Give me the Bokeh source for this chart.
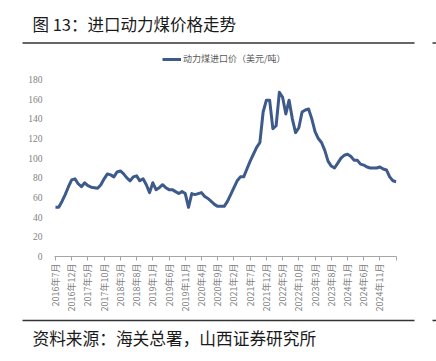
import math
from bokeh.plotting import figure
from bokeh.models import Range1d, FixedTicker, Legend, LegendItem
from bokeh.core.properties import value
from bokeh.embed import file_html
from bokeh.resources import INLINE

title_text = "图 13：进口动力煤价格走势"
source_text = "资料来源：海关总署，山西证券研究所"
series_name = "动力煤进口价（美元/吨）"

tick_labels = ["2016年7月", "2016年12月", "2017年5月", "2017年10月", "2018年3月",
               "2018年8月", "2019年1月", "2019年6月", "2019年11月", "2020年4月",
               "2020年9月", "2021年2月", "2021年7月", "2021年12月", "2022年5月",
               "2022年10月", "2023年3月", "2023年8月", "2024年1月", "2024年6月",
               "2024年11月"]
label_step = 5
y_ticks = [0, 20, 40, 60, 80, 100, 120, 140, 160, 180]

# monthly import price of thermal coal, 2016-07 .. 2025-04 (USD/t)
price = [50, 50, 56, 63, 71, 78, 79, 74, 71, 75,
         72, 70.5, 70, 69.5, 73, 79, 84, 83, 81, 86,
         87, 84, 80, 77, 81, 82, 77, 79, 73, 65,
         75, 68, 70, 73, 70, 68, 68, 66, 64, 66,
         64, 50, 64, 63, 64, 65, 61, 59, 56, 53,
         51, 51, 51, 56, 63, 70, 77, 81, 81, 89,
         97, 104, 111, 116, 147, 159, 159, 130, 133, 167,
         162, 145, 159, 140, 126, 131, 147, 149, 150, 140,
         127, 120, 116, 108, 97, 92, 90, 95, 100, 103,
         104, 102, 98, 98, 94, 93, 91, 90, 90, 90,
         91, 89, 88, 81, 77, 76]
months = list(range(len(price)))

W = 436
CJK = "Noto Sans CJK SC"


def text_panel(height):
    f = figure(width=W, height=height, output_backend="svg", toolbar_location=None,
               x_range=Range1d(0, W), y_range=Range1d(height, 0),
               x_axis_location=None, y_axis_location=None,
               min_border=0, min_border_left=0, min_border_right=0,
               min_border_top=0, min_border_bottom=0)
    f.outline_line_color = None
    f.xgrid.visible = False
    f.ygrid.visible = False
    f.background_fill_color = "white"
    f.border_fill_color = "white"
    return f


# header: title + rule
HH = 50
header = text_panel(HH)
header.text(x=[32], y=[23], text=[title_text], text_font=value(CJK),
            text_font_size="16.5px", text_color="#1a1a1a",
            text_baseline="middle", text_align="left")
header.segment(x0=[22, 432], y0=[42.5, 42.5], x1=[414, 436], y1=[42.5, 42.5],
               line_color="#333333", line_width=1.3)

# chart
CH = 268
p = figure(width=W, height=CH, output_backend="svg", toolbar_location=None,
           x_range=Range1d(-0.3, 105.1), y_range=Range1d(0, 207.5),
           min_border_left=54, min_border_right=40, min_border_top=2, min_border_bottom=62)
p.outline_line_color = None
p.xgrid.visible = False
p.ygrid.visible = False
p.background_fill_color = "white"
p.border_fill_color = "white"

r = p.line(months, price, line_color="#3d5a8a", line_width=3, line_join="round")

ticks = list(range(0, len(price), label_step))
p.xaxis.ticker = FixedTicker(ticks=ticks)
p.xaxis.major_label_overrides = {t: (tick_labels[k] if k < len(tick_labels) else "")
                                 for k, t in enumerate(ticks)}
p.xaxis.major_label_orientation = math.pi / 2
p.xaxis.axis_line_color = "#a6a6a6"
p.xaxis.major_tick_line_color = "#a6a6a6"
p.xaxis.major_tick_in = 0
p.xaxis.major_tick_out = 4
p.xaxis.minor_tick_line_color = None
p.xaxis.major_label_text_font = CJK
p.xaxis.major_label_text_font_size = "9px"
p.xaxis.major_label_text_color = "#808080"
p.xaxis.major_label_standoff = 3

p.yaxis.ticker = FixedTicker(ticks=y_ticks)
p.yaxis.axis_line_color = None
p.yaxis.major_tick_line_color = None
p.yaxis.minor_tick_line_color = None
p.yaxis.major_label_text_font = "Liberation Serif"
p.yaxis.major_label_text_font_size = "9.5px"
p.yaxis.major_label_text_color = "#7f7f7f"
p.yaxis.major_label_standoff = 6

legend = Legend(items=[LegendItem(label=series_name, renderers=[r])],
                location=(108, 191), orientation="horizontal",
                glyph_width=19, glyph_height=10, label_standoff=2,
                padding=0, margin=0, spacing=0,
                border_line_color=None, background_fill_alpha=0,
                label_text_font=CJK, label_text_font_size="9px",
                label_text_color="#595959", label_height=10)
p.add_layout(legend, "center")

# footer: rule + source
FH = 43
footer = text_panel(FH)
footer.segment(x0=[22, 432], y0=[2, 2], x1=[414, 436], y1=[2, 2],
               line_color="#333333", line_width=1.3)
footer.text(x=[32], y=[19], text=[source_text], text_font=value(CJK),
            text_font_size="16.7px", text_color="#1a1a1a",
            text_baseline="middle", text_align="left")

# separate roots so the header/footer frames are not aligned to the chart frame
open("out.html", "w").write(file_html([header, p, footer], INLINE))
